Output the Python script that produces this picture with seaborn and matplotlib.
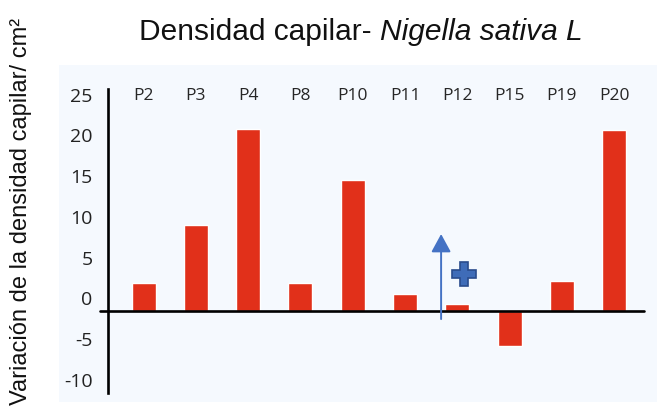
import matplotlib.pyplot as plt
import matplotlib.transforms as mtransforms
from matplotlib.patches import Rectangle
import seaborn as sns

# datos
parcelas = ['P2', 'P3', 'P4', 'P8', 'P10', 'P11', 'P12', 'P15', 'P19', 'P20']
variacion = [3.5, 10.6, 22.4, 3.5, 16.1, 2.2, 0.9, -4.2, 3.8, 22.3]
yticks = [25, 20, 15, 10, 5, 0, -5, -10]

# anotaciones (flecha y cruz)
arrow_x, arrow_y0, arrow_y1 = 5.69, -0.93, 9.5
plus_x, plus_y = 6.13, 4.6

sns.set_style('white')
plt.rcParams['font.family'] = ['Liberation Sans', 'DejaVu Sans']
plt.rcParams['axes.unicode_minus'] = False

fig = plt.figure(figsize=(6.63, 4.16), dpi=100)

# fondo azul claro del panel
fig.patches.append(Rectangle((59/663, 1-402/416), (657-59)/663, (402-65)/416,
                             transform=fig.transFigure, facecolor='#F5F9FE',
                             edgecolor='none', zorder=-5))

ax = fig.add_axes([108/663, 23/416, 536/663, 304/416])
ax.set_facecolor('none')

sns.barplot(x=parcelas, y=variacion, color='#E1301A', saturation=1,
            width=0.46, ax=ax, zorder=2)

ax.set_xlim(-0.68, 9.57)
ax.set_ylim(-9.4, 27.3)
ax.set_xlabel('')
ax.set_ylabel('')

# linea del cero
ax.axhline(0, xmin=-8/536, xmax=1, color='black', lw=1.9, clip_on=False, zorder=3)

ax.spines[['top', 'right', 'bottom']].set_visible(False)
ax.spines['left'].set_linewidth(1.9)
ax.spines['left'].set_color('black')

# etiquetas de categorias arriba
ax.xaxis.tick_top()
ax.tick_params(axis='x', length=0, pad=-11, labelsize=12.5, labelcolor='#262626')
for lbl in ax.get_xticklabels():
    lbl.set_fontfamily(['Open Sans', 'DejaVu Sans'])

ax.set_yticks(yticks)
ax.tick_params(axis='y', length=0, pad=11, labelsize=14, labelcolor='#222222')
offset = mtransforms.ScaledTranslation(0, 0.13, fig.dpi_scale_trans)
for lbl in ax.get_yticklabels():
    lbl.set_fontfamily(['Open Sans', 'DejaVu Sans'])
    lbl.set_transform(lbl.get_transform() + offset)

# flecha y signo +
ax.annotate('', xy=(arrow_x, arrow_y1), xytext=(arrow_x, arrow_y0),
            arrowprops=dict(arrowstyle='-|>,head_length=0.55,head_width=0.3',
                            color='#4472C4', lw=1.4, mutation_scale=20,
                            shrinkA=0, shrinkB=0), zorder=4)
ax.plot(plus_x, plus_y, marker='P', markersize=17, color='#3F6CB8',
        markeredgecolor='#2A4C8C', markeredgewidth=1.2, zorder=4)

# titulo
fig.text(380/663, 1-40/416, 'Densidad capilar- ', ha='right', va='baseline',
         fontsize=21.5, color='#111111')
fig.text(380/663, 1-40/416, 'Nigella sativa L', ha='left', va='baseline',
         fontsize=21.5, style='italic', color='#111111')

fig.text(21/663, 1-211/416, 'Variación de la densidad capilar/ cm²', rotation=90,
         ha='center', va='center', fontsize=17, color='#111111')

plt.savefig('out.png', dpi=100)
plt.close()
